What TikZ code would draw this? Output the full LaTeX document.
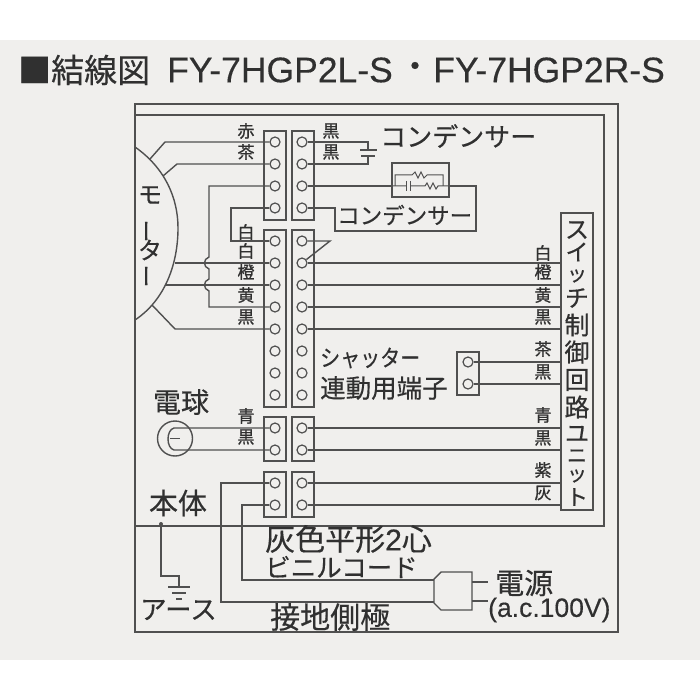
\documentclass[tikz,border=0pt]{standalone}
\usepackage{fontspec}
\setmainfont[FakeBold=0.3]{Liberation Sans}
\newfontfamily\cjk[FakeBold=0.4]{Noto Sans CJK JP}
\newfontfamily\cjkdark[FakeBold=1]{Noto Sans CJK JP}
\definecolor{paper}{HTML}{F0EFED}
\definecolor{wire}{HTML}{505050}
\definecolor{ink}{HTML}{303030}
\tikzset{
  wireline/.style={draw=wire,line width=1.4pt},
  term/.style={circle,draw=wire,line width=1.2pt,minimum size=10pt,inner sep=0pt},
  txt/.style={font=\cjk\fontsize{#1}{#1}\selectfont,text=ink,inner sep=0pt},
  tag/.style={font=\cjkdark\fontsize{17}{17}\selectfont,text=ink,inner sep=0pt},
  latin/.style={font=\fontsize{#1}{#1}\selectfont,text=ink,inner sep=0pt}
}
\begin{document}
\begin{tikzpicture}[x=1pt,y=-1pt]
  \useasboundingbox (0,0) rectangle (700,700);
  \fill[white] (0,0) rectangle (700,700);
  \fill[paper] (0,40) rectangle (700,660);
  \node[txt=33,anchor=west] (title1) at (18,70) {■結線図};
  \node[latin=35.5,anchor=west] (title2) at (167,70) {FY-7HGP2L-S};
  \node[txt=33] (title3) at (415,70) {・};
  \node[latin=35.5,anchor=east] (title4) at (665,70) {FY-7HGP2R-S};
  \draw[wireline] (135,104) rectangle (618,632);
  \draw[wireline] (135,115) -- (604,115) -- (604,526) -- (135,526);
  \draw[wireline] (264,131) rectangle (286,220);
  \draw[wireline] (292,131) rectangle (314,220);
  \draw[wireline] (264,230) rectangle (286,407);
  \draw[wireline] (292,230) rectangle (314,407);
  \draw[wireline] (264,417) rectangle (286,461);
  \draw[wireline] (292,417) rectangle (314,461);
  \draw[wireline] (264,472) rectangle (286,517);
  \draw[wireline] (292,472) rectangle (314,517);
  \foreach \n/\y in {1/142,2/164,3/186,4/208,5/241,6/263,7/285,8/307,9/329,10/351,11/373,12/395,13/428,14/450,15/483,16/505}{
    \node[term] (l\n) at (275,\y) {};
    \node[term] (r\n) at (302,\y) {};
  }
  \node[term] (s1) at (468,362) {};
  \node[term] (s2) at (468,384) {};
  \draw[wireline] (457,352) rectangle (479,395);
  \node[draw=wire,line width=1.4pt,minimum width=32pt,minimum height=297pt,inner sep=0pt] (unit) at (577,361.5) {};
  \foreach \n/\c/\y/\s in {1/ス/230/24,2/イ/252/23,3/ッ/276/20,4/チ/298/24,5/制/325/25,6/御/352/25,7/回/380/25,8/路/407/25,9/ユ/434/24,10/ニ/456/20,11/ッ/476/20,12/ト/497/22}{
    \node[txt=\s] (u\n) at (577,\y) {\c};
  }
  \draw[wireline] (135,147) .. controls (165,168) and (178,198) .. (178,228) .. controls (178,264) and (165,300) .. (135,320);
  \node[txt=24] (mo1) at (150,195) {モ};
  \node[txt=23,rotate=90] (mo2) at (150,231) {ー};
  \node[txt=24] (mo3) at (150,250) {タ};
  \node[txt=23,rotate=90] (mo4) at (150,276) {ー};
  \coordinate (m1) at (150,159);
  \coordinate (m2) at (163,176);
  \coordinate (m3) at (175,263);
  \coordinate (m4) at (166,285);
  \coordinate (m5) at (152,305);
  \draw[wireline] (m1) -- (165,142) -- (l1);
  \draw[wireline] (m2) -- (177,164) -- (l2);
  \draw[wireline] (l3) -- (209,186) -- (209,257) .. controls (203,259) and (203,267) .. (209,269) -- (209,279) .. controls (203,281) and (203,289) .. (209,291) -- (209,307) -- (l8);
  \draw[wireline] (l4) -- (231,208) -- (231,241) -- (l5);
  \draw[wireline] (m3) -- (l6);
  \draw[wireline] (m4) -- (l7);
  \draw[wireline] (m5) -- (175,329) -- (l9);
  \foreach \n/\c/\y in {a/赤/131,b/茶/152,c/白/232,d/白/251,e/橙/272,f/黄/295,g/黒/317,h/青/416,i/黒/437}{
    \node[tag] (lab\n) at (246,\y) {\c};
  }
  \foreach \n/\c/\y in {a/黒/131,b/黒/152}{
    \node[tag] (tab\n) at (331,\y) {\c};
  }
  \foreach \n/\c/\y in {a/白/253,b/橙/272,c/黄/295,d/黒/317,e/茶/349,f/黒/372,g/青/415,h/黒/438,i/紫/470,j/灰/493}{
    \node[tag] (rab\n) at (543,\y) {\c};
  }
  \draw[wireline] (r1) -- (368,142) -- (368,150);
  \draw[wireline] (r2) -- (368,164) -- (368,156);
  \draw[wireline] (360,150) -- (377,150);
  \draw[wireline] (361,156) -- (375,156);
  \node[txt=26,anchor=west] (cap1) at (380,136) {コンデンサー};
  \node[txt=22.5,anchor=west] (cap2) at (337,215) {コンデンサー};
  \node[draw=wire,line width=1.4pt,minimum width=57pt,minimum height=34pt,inner sep=0pt] (capbox) at (420.5,180) {};
  \draw[wireline] (r3) -- (capbox.west |- r3);
  \draw[wireline] (capbox.east |- r3) -- (476,186) -- (476,231) -- (335,231) -- (335,208) -- (r4);
  \draw[wireline,line width=1pt] (392,186) -- (406,186) (410,186) -- (425,186) -- (427,183) -- (430,189) -- (433,183) -- (436,189) -- (438,186) -- (449,186);
  \draw[wireline,line width=1pt] (406,181) -- (406,191) (410,181) -- (410,191);
  \draw[wireline,line width=1pt] (395,186) -- (395,175) -- (412,175) -- (415,172) -- (418,178) -- (421,172) -- (424,178) -- (427,175) -- (443,175) -- (443,186);
  \draw[wireline] (r5) -- (330,241) -- (r6);
  \foreach \n in {6,7,8,9,13,14,15,16}{
    \draw[wireline] (r\n) -- (r\n -| unit.west);
  }
  \draw[wireline] (s1) -- (s1 -| unit.west);
  \draw[wireline] (s2) -- (s2 -| unit.west);
  \node[txt=23,anchor=west,xscale=.87] (shutter1) at (320,358) {シャッター};
  \node[txt=25.5,anchor=west] (shutter2) at (320,388) {連動用端子};
  \node[txt=28] (lamplab) at (181,402) {電球};
  \node[circle,draw=wire,line width=1.4pt,minimum size=35pt,inner sep=0pt] (lamp) at (175,438.5) {};
  \draw[wireline] (l13) -- (174,428) .. controls (166,430) and (166,448) .. (174,450) -- (l14);
  \draw[wireline] (170,438.5) -- (180,438.5);
  \node[txt=29] (body) at (178,503) {本体};
  \node[circle,fill=wire,minimum size=4pt,inner sep=0pt] (bodydot) at (161,524) {};
  \coordinate (gnd) at (179,586);
  \draw[wireline] (bodydot) -- (161,576) -- (179,576) -- (gnd);
  \draw[wireline] (168,587) -- (190,587);
  \draw[wireline] (172,593) -- (186,593);
  \draw[wireline] (176,599) -- (182,599);
  \node[txt=26.5] (earth) at (178.5,610) {アース};
  \draw[wireline,fill=paper] (441,572) -- (472,572) -- (472,610) -- (441,610) -- (434,603) -- (434,579) -- cycle;
  \coordinate (plug1) at (434,580);
  \coordinate (plug2) at (434,602);
  \draw[wireline] (l16) -- (242,505) -- (242,580) -- (plug1);
  \draw[wireline] (l15) -- (221,483) -- (221,602) -- (plug2);
  \draw[wireline] (472,582) -- (488,582);
  \draw[wireline] (472,601) -- (488,601);
  \node[txt=30,anchor=west] (cord1) at (265,539) {灰色平形{\fontspec[FakeBold=0.3]{Liberation Sans}2}心};
  \node[txt=25.5,anchor=west] (cord2) at (265,567) {ビニルコード};
  \node[txt=30,anchor=west] (pole) at (270,617) {接地側極};
  \node[txt=29,anchor=west] (power) at (495,583) {電源};
  \node[latin=26.5,anchor=west] (volt) at (488,610) {(a.c.100V)};
\end{tikzpicture}
\end{document}
